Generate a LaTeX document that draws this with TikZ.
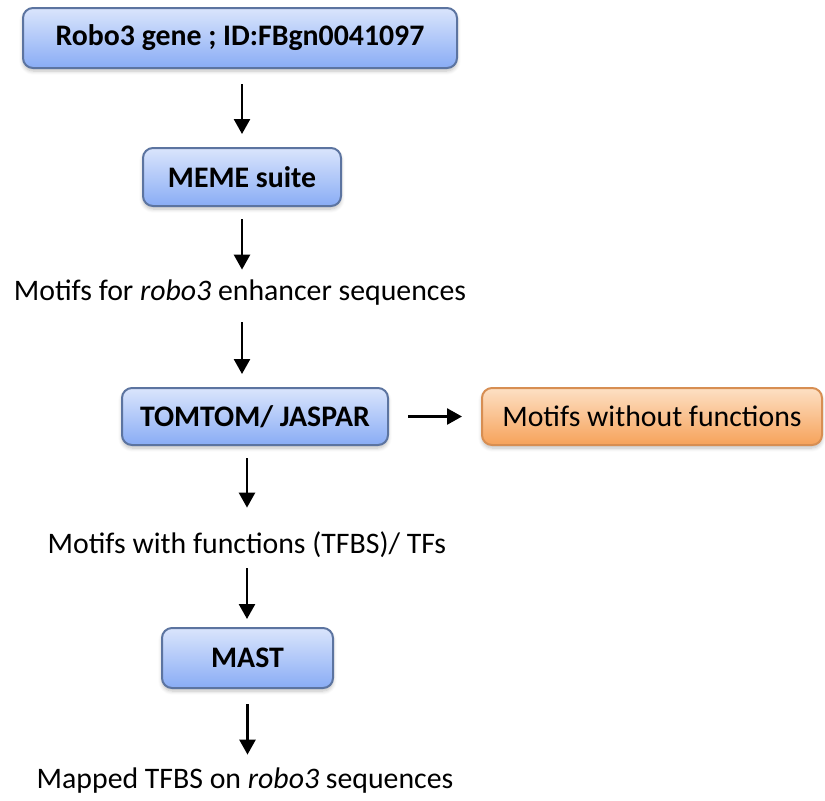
\documentclass[tikz,border=0pt]{standalone}
\usepackage{fontspec}
\setmainfont{Carlito}
\usetikzlibrary{arrows.meta,shadows.blur}
\definecolor{boxtop}{RGB}{218,229,252}
\definecolor{boxbot}{RGB}{137,172,245}
\definecolor{boxline}{RGB}{92,116,160}
\definecolor{ortop}{RGB}{253,224,196}
\definecolor{orbot}{RGB}{246,162,90}
\definecolor{orline}{RGB}{215,142,82}

\begin{document}
\begin{tikzpicture}[x=0.5pt,y=-0.5pt,
    tool/.style={draw=boxline,line width=1pt,rounded corners=5pt,
      top color=boxtop,bottom color=boxbot,inner sep=0pt,
      font=\fontsize{14.9}{17}\selectfont\bfseries,
      blur shadow={shadow xshift=0pt,shadow yshift=-1.5pt,shadow blur steps=6,shadow opacity=25}},
    outcome/.style={tool,draw=orline,top color=ortop,bottom color=orbot,
      font=\fontsize{14.9}{17}\selectfont},
    plain/.style={inner sep=0pt,text height=9.5pt,text depth=0pt,
      font=\fontsize{14.9}{17}\selectfont},
    flow/.style={-{Triangle[width=8pt,length=7.5pt]},line width=1.3pt}]

    \useasboundingbox (0,0) rectangle (825,800);

    \node[tool,minimum width=217pt,minimum height=30pt] (gene) at (240,38) {Robo3 gene ; ID:FBgn0041097};
    \node[tool,minimum width=99pt,minimum height=29pt] (meme) at (242,177) {MEME suite};
    \node[plain] (motifs) at (240,291) {Motifs for \textit{robo3} enhancer sequences};
    \node[tool,minimum width=133pt,minimum height=28.5pt] (tomtom) at (255,416.5) {TOMTOM/ JASPAR};
    \node[outcome,minimum width=170pt,minimum height=28.5pt] (nofunc) at (652,416.5) {Motifs without functions};
    \node[plain] (tfbs) at (247,544) {Motifs with functions (TFBS)/ TFs};
    \node[tool,minimum width=85.5pt,minimum height=30pt] (mast) at (247.5,658) {MAST};
    \node[plain] (mapped) at (245,779) {Mapped TFBS on \textit{robo3} sequences};

    \draw[flow,shorten <=7.5pt,shorten >=6.5pt] (gene.south -| meme) -- (meme.north);
    \draw[flow,shorten <=6pt,shorten >=5.75pt] (meme.south) -- (meme.south |- motifs.north);
    \draw[flow,shorten <=10.75pt,shorten >=6.5pt] (motifs.south -| meme) -- (meme |- tomtom.north);
    \draw[flow,shorten <=6pt,shorten >=13.25pt] (tomtom.south -| tfbs) -- (tfbs.north);
    \draw[flow,shorten <=7.25pt,shorten >=4pt] (tfbs.south) -- (tfbs.south |- mast.north);
    \draw[flow,shorten <=7.5pt,shorten >=7.25pt] (mast.south) -- (mast.south |- mapped.north);
    \draw[flow,shorten <=9.5pt,shorten >=9.5pt] (tomtom.east) -- (nofunc.west);
\end{tikzpicture}
\end{document}
